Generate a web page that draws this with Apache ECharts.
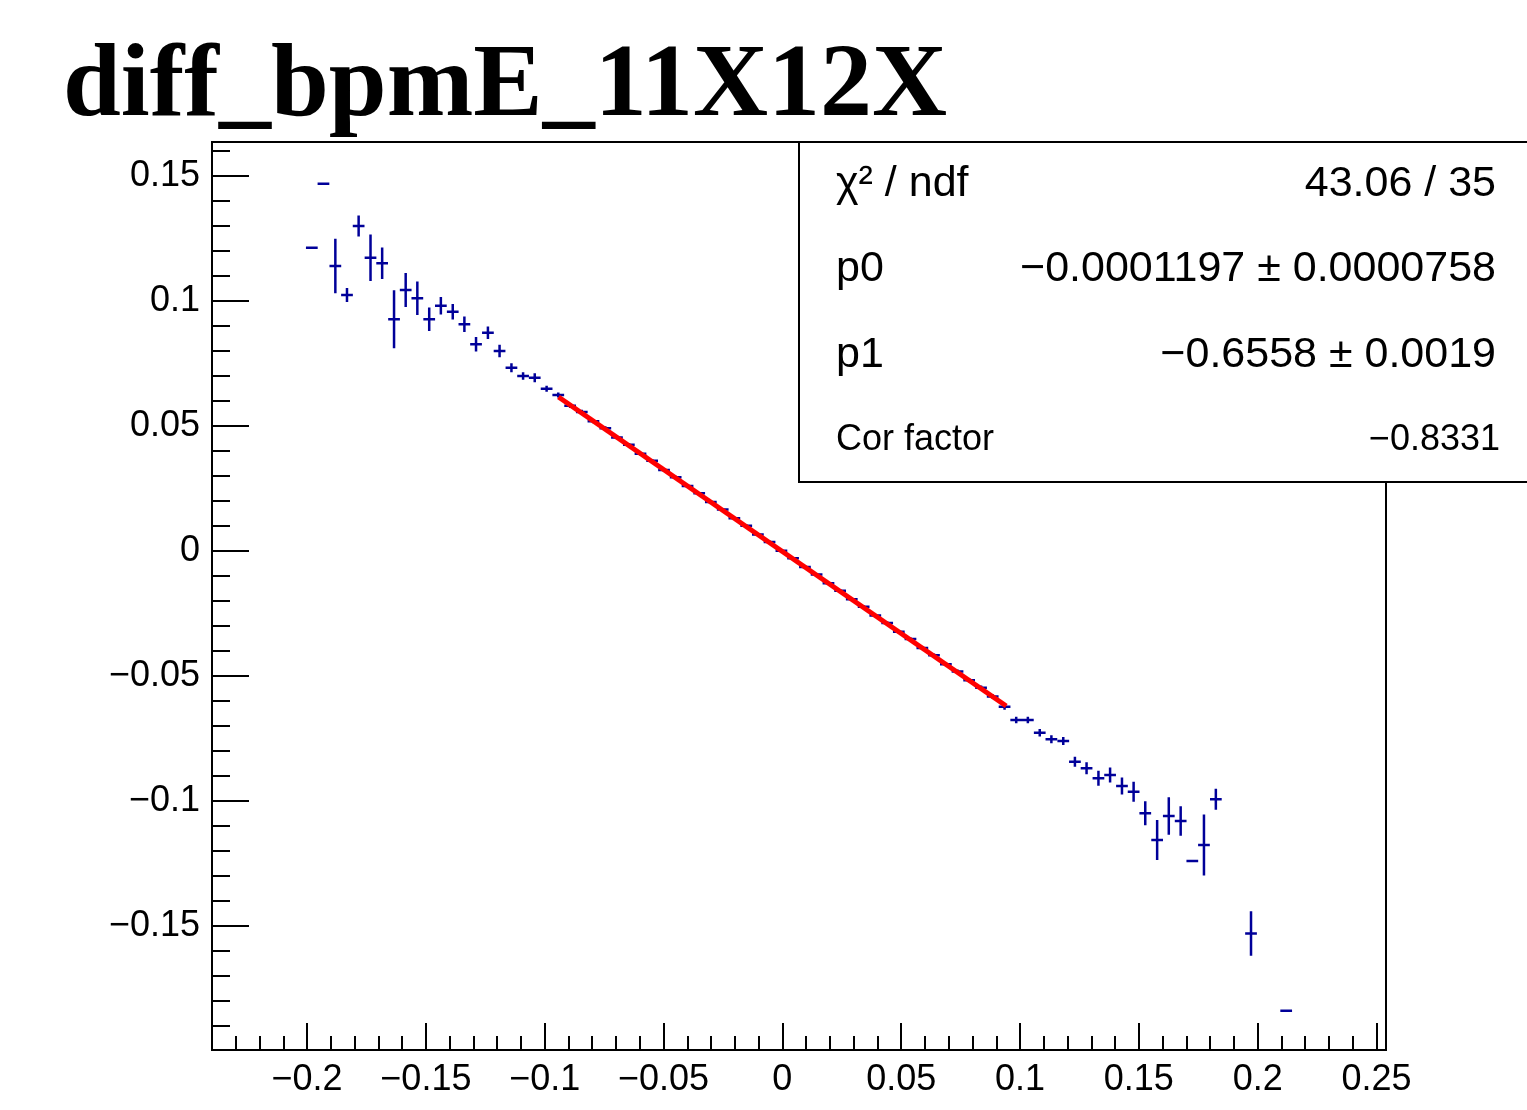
<!DOCTYPE html>
<html lang="en">
<head>
<meta charset="UTF-8">
<title>diff_bpmE_11X12X</title>
<script src="https://cdn.jsdelivr.net/npm/echarts@6/dist/echarts.min.js"></script>
</head>
<body style="margin: 0; background: #fff">
<div id="container" style="width: 1527px; height: 1110px"></div>
<script type="text/javascript">
// profile bins: centre, mean, error on the mean
var xBins = [
    -0.1980, -0.1931, -0.1881, -0.1832, -0.1783, -0.1733, -0.1684, -0.1634, -0.1585, -0.1536, -0.1486,
    -0.1437, -0.1387, -0.1338, -0.1289, -0.1239, -0.1190, -0.1140, -0.1091, -0.1042, -0.0992, -0.0943,
    -0.0893, -0.0844, -0.0795, -0.0745, -0.0696, -0.0646, -0.0597, -0.0548, -0.0498, -0.0449, -0.0399,
    -0.0350, -0.0301, -0.0251, -0.0202, -0.0152, -0.0103, -0.0054, -0.0004, 0.0045, 0.0095, 0.0144,
    0.0194, 0.0243, 0.0292, 0.0342, 0.0391, 0.0441, 0.0490, 0.0539, 0.0589, 0.0638, 0.0688, 0.0737,
    0.0786, 0.0836, 0.0885,
    0.0935, 0.0984, 0.1033, 0.1083, 0.1132, 0.1182, 0.1231, 0.1280, 0.1330, 0.1379, 0.1429, 0.1478,
    0.1527, 0.1577, 0.1626, 0.1676, 0.1725, 0.1774, 0.1824, 0.1972, 0.2120
];
var yMean = [
    0.1212, 0.1468, 0.1139, 0.1023, 0.1299, 0.1172, 0.1150, 0.0926, 0.1043, 0.1010, 0.0926,
    0.0980, 0.0956, 0.0906, 0.0826, 0.0872, 0.0799, 0.0732, 0.0699, 0.0692, 0.0648, 0.0623,
    0.0580, 0.0555, 0.0518, 0.0490, 0.0453, 0.0424, 0.0388, 0.0360, 0.0323, 0.0294, 0.0259,
    0.0230, 0.0195, 0.0165, 0.0130, 0.0100, 0.0065, 0.0035, 0.0000, -0.0030, -0.0065, -0.0095,
    -0.0130, -0.0160, -0.0194, -0.0224, -0.0259, -0.0289, -0.0324, -0.0353, -0.0389, -0.0418, -0.0454, -0.0483,
    -0.0518, -0.0548, -0.0583,
    -0.0624, -0.0677, -0.0677, -0.0728, -0.0754, -0.0761, -0.0844, -0.0870, -0.0910, -0.0897, -0.0941, -0.0964,
    -0.1050, -0.1157, -0.1061, -0.1081, -0.1241, -0.1177, -0.0994, -0.1531, -0.1840
];
var yErr = [
    0, 0, 0.0109, 0.0028, 0.0042, 0.0093, 0.0063, 0.0116, 0.0068, 0.0067, 0.0047,
    0.0035, 0.0031, 0.0031, 0.0029, 0.0025, 0.0025, 0.0018, 0.0015, 0.0018, 0.0012, 0.0010,
    0.0009, 0.0009, 0.0008, 0.0008, 0.0007, 0.0007, 0.0007, 0.0006, 0.0006, 0.0006, 0.0006,
    0.0005, 0.0005, 0.0005, 0.0005, 0.0005, 0.0005, 0.0005, 0.0005, 0.0005, 0.0005, 0.0005,
    0.0005, 0.0005, 0.0005, 0.0005, 0.0006, 0.0006, 0.0006, 0.0006, 0.0007, 0.0007, 0.0007, 0.0008,
    0.0008, 0.0009, 0.0009,
    0.0012, 0.0013, 0.0013, 0.0015, 0.0016, 0.0016, 0.0020, 0.0024, 0.0030, 0.0030, 0.0034, 0.0040,
    0.0048, 0.0080, 0.0075, 0.0059, 0, 0.0122, 0.0042, 0.0089, 0
];
var binWidth = 0.00494;

// fit line end points (pol1 over the central bins)
var fitX = [-0.0942, 0.0942];
var fitY = [0.0615, -0.0621];

var xTicks = [-0.2, -0.15, -0.1, -0.05, 0, 0.05, 0.1, 0.15, 0.2, 0.25];
var yTicks = [-0.15, -0.1, -0.05, 0, 0.05, 0.1, 0.15];

var statsRows = [
    ['χ² / ndf', '43.06 / 35'],
    ['p0', '−0.0001197 ± 0.0000758'],
    ['p1', '−0.6558 ± 0.0019'],
    ['Cor factor', '−0.8331']
];

var xMinor = [], yMinor = [];
for (var i = -23; i <= 25; i++) { if (i % 5 !== 0) xMinor.push(i / 100); }
for (var j = -19; j <= 16; j++) { if (j % 5 !== 0) yMinor.push(j / 100); }

function fmt(v) {
    var s = String(Math.abs(Math.round(v * 100) / 100));
    return v < 0 ? '−' + s : s;
}

var blue = '#000099';
var font = 'Liberation Sans';

var binData = [];
for (var k = 0; k < xBins.length; k++) binData.push([xBins[k], yMean[k], yErr[k]]);

function renderBin(params, api) {
    var x = api.value(0), y = api.value(1), e = api.value(2);
    var l = api.coord([x - binWidth / 2, y]);
    var r = api.coord([x + binWidth / 2, y]);
    var st = { stroke: blue, lineWidth: 2.5 };
    var children = [{ type: 'line', shape: { x1: l[0], y1: l[1], x2: r[0], y2: r[1] }, style: st }];
    if (e > 0) {
        var t = api.coord([x, y + e]);
        var b = api.coord([x, y - e]);
        children.push({ type: 'line', shape: { x1: t[0], y1: t[1], x2: b[0], y2: b[1] }, style: st });
    }
    return { type: 'group', children: children };
}

var xRange = { min: -0.24, max: 0.254 };
var yRange = { min: -0.1997, max: 0.1635 };

var statsGraphics = [{
    type: 'rect', z: 100,
    shape: { x: 799, y: 142, width: 760, height: 340 },
    style: { fill: '#fff', stroke: '#000', lineWidth: 2 }
}];
statsRows.forEach(function (row, n) {
    var size = n === 3 ? 36 : 43;
    var cy = 184 + n * 85.5;
    statsGraphics.push({
        type: 'text', z: 101, x: 836, y: cy,
        style: { text: row[0], fontSize: size, fontFamily: font, fill: '#000', align: 'left', verticalAlign: 'middle' }
    });
    statsGraphics.push({
        type: 'text', z: 101, x: n === 3 ? 1500 : 1496, y: cy,
        style: { text: row[1], fontSize: size, fontFamily: font, fill: '#000', align: 'right', verticalAlign: 'middle' }
    });
});

var myChart = echarts.init(document.getElementById('container'), null, { renderer: 'canvas' });

var option = {
    backgroundColor: '#fff',
    animation: false,
    title: {
        text: 'diff_bpmE_11X12X',
        left: 58, top: 31,
        textStyle: { fontFamily: 'Liberation Serif', fontWeight: 'bold', fontSize: 104, color: '#000' }
    },
    grid: {
        left: 212, top: 142, width: 1174, height: 908,
        show: true, borderColor: '#000', borderWidth: 2, backgroundColor: 'transparent'
    },
    xAxis: [
        Object.assign({
            type: 'value', position: 'bottom',
            axisLine: { show: true, onZero: false, lineStyle: { color: '#000', width: 2 } },
            axisTick: { show: true, inside: true, length: 27, customValues: xTicks, lineStyle: { color: '#000', width: 2 } },
            axisLabel: { customValues: xTicks, formatter: fmt, color: '#000', fontFamily: font, fontSize: 36, margin: 12 },
            splitLine: { show: false }
        }, xRange),
        Object.assign({
            type: 'value', position: 'bottom',
            axisLine: { show: false, onZero: false },
            axisTick: { show: true, inside: true, length: 14, customValues: xMinor, lineStyle: { color: '#000', width: 2 } },
            axisLabel: { show: false },
            splitLine: { show: false }
        }, xRange)
    ],
    yAxis: [
        Object.assign({
            type: 'value', position: 'left',
            axisLine: { show: true, onZero: false, lineStyle: { color: '#000', width: 2 } },
            axisTick: { show: true, inside: true, length: 37, customValues: yTicks, lineStyle: { color: '#000', width: 2 } },
            axisLabel: { customValues: yTicks, formatter: fmt, color: '#000', fontFamily: font, fontSize: 36, margin: 12 },
            splitLine: { show: false }
        }, yRange),
        Object.assign({
            type: 'value', position: 'left',
            axisLine: { show: false, onZero: false },
            axisTick: { show: true, inside: true, length: 18, customValues: yMinor, lineStyle: { color: '#000', width: 2 } },
            axisLabel: { show: false },
            splitLine: { show: false }
        }, yRange)
    ],
    series: [
        {
            type: 'custom', xAxisIndex: 0, yAxisIndex: 0,
            renderItem: renderBin,
            encode: { x: 0, y: 1 },
            data: binData, z: 3
        },
        {
            type: 'line', xAxisIndex: 0, yAxisIndex: 0,
            data: [[fitX[0], fitY[0]], [fitX[1], fitY[1]]],
            symbol: 'none',
            lineStyle: { color: '#ff0000', width: 5 },
            z: 5
        }
    ],
    graphic: statsGraphics
};

myChart.setOption(option);
window.addEventListener('resize', myChart.resize);
</script>
</body>
</html>
